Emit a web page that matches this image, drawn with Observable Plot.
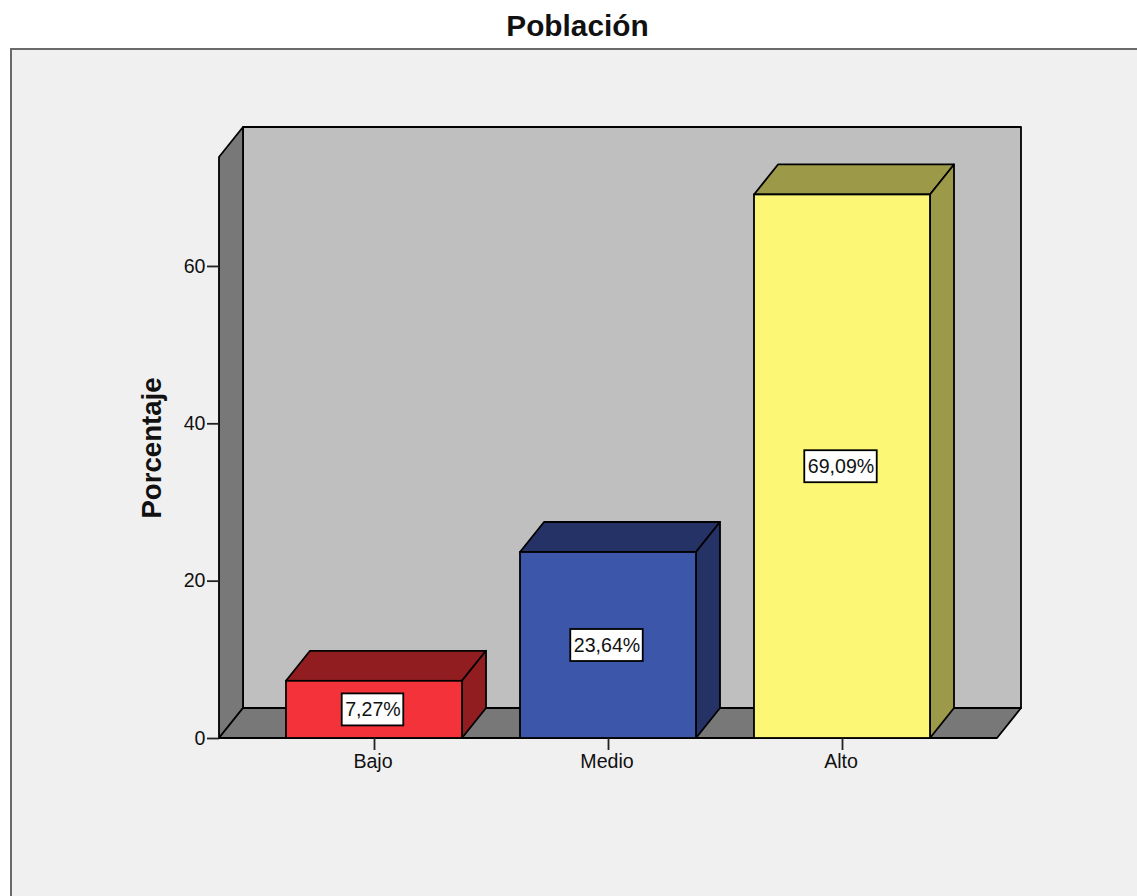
<!DOCTYPE html>
<html lang="es">
<head>
<meta charset="utf-8">
<style>
  html, body { margin: 0; padding: 0; background: #fff; overflow: hidden; }
  #page { position: relative; width: 1137px; height: 896px; overflow: hidden; font-family: "Liberation Sans", Arial, sans-serif; }
  #title { position: absolute; left: 18px; top: 0; width: 1119px; height: 48px; line-height: 52px; text-align: center; font-weight: bold; font-size: 29.8px; color: #111; }
  #panel { position: absolute; left: 10px; top: 48px; width: 1140px; height: 860px; background: #f0f0f0; border: 2px solid #6a6a6a; box-sizing: border-box; }
  #chart { position: absolute; left: 0; top: 48px; }
  #chart svg { display: block; }
</style>
<script src="https://cdn.jsdelivr.net/npm/d3@7"></script>
<script src="https://cdn.jsdelivr.net/npm/@observablehq/plot@0.6"></script>
</head>
<body>
<div id="page">
  <div id="panel"></div>
  <div id="title">Población</div>
  <div id="chart"></div>
</div>
<script>
const categories = ["Bajo", "Medio", "Alto"];
const percentages = [7.27, 23.64, 69.09];
const valueLabels = ["7,27%", "23,64%", "69,09%"];
const yTicks = [0, 20, 40, 60];
const yTop = 73.85;

const frontColors = ["#f33239", "#3c56a9", "#fcf876"];
const shadeColors = ["#921d21", "#253265", "#9c9a48"];
const DEPTH_X = 24, DEPTH_Y = 30;
const LINE = 1.8;
const TEXT_SIZE = 19.6;
const TEXT_SHIFT = -1.5;
const FONT = '"Liberation Sans", Arial, sans-serif';

const rows = categories.map((category, i) => ({
  category, value: percentages[i], label: valueLabels[i], shade: shadeColors[i]
}));

const NS = "http://www.w3.org/2000/svg";
function poly(points, fill) {
  const p = document.createElementNS(NS, "polygon");
  p.setAttribute("points", points.map(q => q.join(",")).join(" "));
  p.setAttribute("fill", fill);
  p.setAttribute("stroke", "#000");
  p.setAttribute("stroke-width", LINE);
  p.setAttribute("stroke-linejoin", "round");
  return p;
}
function group() { return document.createElementNS(NS, "g"); }
function bandOf(scale) {
  return typeof scale.bandwidth === "function" ? scale.bandwidth() : scale.bandwidth;
}

// Back wall, side wall and floor of the 3D box, placed through the plot's scales.
function walls(index, scales, values, dims) {
  const g = group();
  const x0 = dims.marginLeft, x1 = dims.width - dims.marginRight;
  const y0 = scales.y(0), y1 = scales.y(yTop);
  const dx = DEPTH_X, dy = DEPTH_Y;
  g.append(
    poly([[x0 + dx, y1 - dy], [x1 + dx, y1 - dy], [x1 + dx, y0 - dy], [x0 + dx, y0 - dy]], "#bfbfbf"),
    poly([[x0, y1], [x0 + dx, y1 - dy], [x0 + dx, y0 - dy], [x0, y0]], "#787878"),
    poly([[x0, y0], [x0 + dx, y0 - dy], [x1 + dx, y0 - dy], [x1, y0]], "#787878")
  );
  return g;
}

// Top and right faces of each bar, in the darker tone of its front.
function barSides(index, scales) {
  const g = group();
  const bw = bandOf(scales.x), y0 = scales.y(0);
  for (const d of rows) {
    const l = scales.x(d.category), r = l + bw, t = scales.y(d.value);
    g.append(
      poly([[l, t], [l + DEPTH_X, t - DEPTH_Y], [r + DEPTH_X, t - DEPTH_Y], [r, t]], d.shade),
      poly([[r, t], [r + DEPTH_X, t - DEPTH_Y], [r + DEPTH_X, y0 - DEPTH_Y], [r, y0]], d.shade)
    );
  }
  return g;
}

// White boxes behind the value labels, as wide as their text.
const measure = document.createElement("canvas").getContext("2d");
function labelBoxes(index, scales) {
  const g = group();
  measure.font = `${TEXT_SIZE}px ${FONT}`;
  const h = 32;
  for (const d of rows) {
    const w = measure.measureText(d.label).width + 6;
    const cx = scales.x(d.category) + bandOf(scales.x) / 2 + TEXT_SHIFT;
    const cy = scales.y(d.value / 2);
    const r = document.createElementNS(NS, "rect");
    r.setAttribute("x", cx - w / 2);
    r.setAttribute("y", cy - h / 2);
    r.setAttribute("width", w);
    r.setAttribute("height", h);
    r.setAttribute("fill", "#fff");
    r.setAttribute("stroke", "#000");
    r.setAttribute("stroke-width", LINE);
    g.append(r);
  }
  return g;
}

const chart = Plot.plot({
  width: 1137,
  height: 848,
  marginLeft: 219,
  marginRight: 140,
  marginTop: 109,
  marginBottom: 158,
  style: { background: "transparent", fontFamily: FONT },
  x: { type: "band", domain: categories, paddingInner: 0.25, paddingOuter: 0.287, label: null },
  y: { domain: [0, yTop], label: null },
  color: { domain: categories, range: frontColors },
  marks: [
    walls,
    barSides,
    Plot.barY(rows, { x: "category", y: "value", fill: "category", stroke: "#000", strokeWidth: LINE }),
    labelBoxes,
    Plot.text(rows, {
      x: "category", y: d => d.value / 2, text: "label", dx: TEXT_SHIFT,
      fontSize: TEXT_SIZE, fill: "#111", textAnchor: "middle", lineAnchor: "middle"
    }),
    Plot.axisY({ ticks: yTicks, tickSize: 12, tickPadding: 2, fontSize: TEXT_SIZE, label: null, stroke: "#222", fill: "#111", strokeWidth: LINE }),
    Plot.axisX({ tickSize: 12, tickFormat: () => "", label: null, stroke: "#222", strokeWidth: LINE }),
    Plot.axisX({ tickSize: 0, tickPadding: 16, dx: TEXT_SHIFT, fontSize: TEXT_SIZE, label: null, fill: "#111" }),
    Plot.text(["Porcentaje"], {
      frameAnchor: "left", dx: -67, rotate: -90, text: d => d,
      fontSize: 27.6, fontWeight: "bold", fill: "#111", lineAnchor: "middle", textAnchor: "middle"
    })
  ]
});
document.getElementById("chart").append(chart);
</script>
</body>
</html>
